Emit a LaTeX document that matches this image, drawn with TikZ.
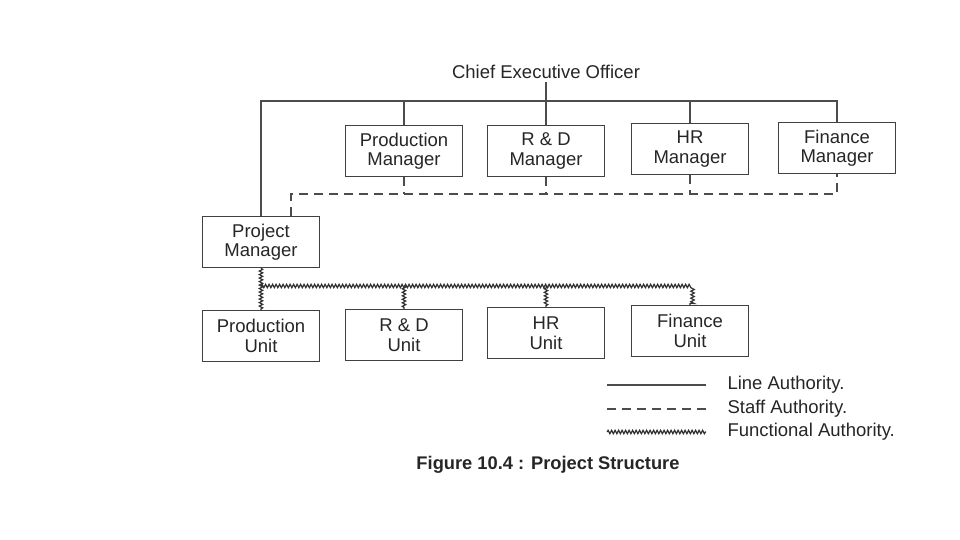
\documentclass[tikz,border=0pt]{standalone}
\usepackage{fontspec}
\setmainfont{Liberation Sans}
\usetikzlibrary{decorations.pathmorphing}
\begin{document}
\begin{tikzpicture}[x=1pt,y=-1pt,
  txt/.style={font=\fontsize{18.5}{19.5}\selectfont, text=black!85},
  box/.style={txt, draw=black!75, line width=1.5pt, minimum width=117pt, minimum height=51pt, align=center, inner sep=0pt},
  line/.style={draw=black!70, line width=1.4pt},
  staff/.style={draw=black!70, line width=1.2pt, dash pattern=on 9pt off 6pt},
  func/.style={draw=black!80, line width=1.2pt, decorate, decoration={snake, amplitude=1.7pt, segment length=3.5pt}}]
\useasboundingbox (0,0) rectangle (960,540);
\fill[white] (0,0) rectangle (960,540);

\node[txt] (ceo) at (546,72) {Chief Executive Officer};
\node[box] (pm) at (404,151) {Production\\Manager};
\node[box] (rdm) at (546,151) {R \& D\\Manager};
\node[box] (hrm) at (690,149) {HR\\Manager};
\node[box] (fm) at (837,148) {Finance\\Manager};
\node[box] (proj) at (261,242) {Project\\Manager};
\node[box] (pu) at (261,336) {Production\\Unit};
\node[box] (rdu) at (404,335) {R \& D\\Unit};
\node[box] (hru) at (546,333) {HR\\Unit};
\node[box] (fnu) at (690,331) {Finance\\Unit};

% line authority
\coordinate (bus) at (261,101);
\draw[line] (ceo.south) -- (rdm.north);
\draw[line] (proj.north) -- (bus) -- (bus -| fm.north) -- (fm.north);
\draw[line] (pm.north) -- (pm.north |- bus);
\draw[line] (hrm.north) -- (hrm.north |- bus);

% staff authority
\coordinate (st) at (291,194);
\draw[staff] (proj.north -| st) -- (st) -- (st -| fm.south) -- (fm.south);
\draw[staff] (pm.south) -- (pm.south |- st);
\draw[staff] (rdm.south) -- (rdm.south |- st);
\draw[staff] (hrm.south) -- (hrm.south |- st);

% functional authority
\coordinate (fu) at (261,286);
\draw[func] (proj.south) -- (pu.north);
\draw[func] (fu) -- (fu -| fnu.north) -- (fnu.north);
\draw[func] (rdu.north |- fu) -- (rdu.north);
\draw[func] (hru.north |- fu) -- (hru.north);

% legend
\node[txt, anchor=west] (l1) at (724,385) {Line Authority.};
\node[txt, anchor=west] (l2) at (724,409) {Staff Authority.};
\node[txt, anchor=west] (l3) at (724,432) {Functional Authority.};
\coordinate (a1) at (607,385); \coordinate (b1) at (706,385);
\coordinate (a2) at (607,409); \coordinate (b2) at (706,409);
\coordinate (a3) at (607,432); \coordinate (b3) at (706,432);
\draw[line] (a1) -- (b1);
\draw[staff] (a2) -- (b2);
\draw[func] (a3) -- (b3);

\node[font=\fontsize{18.3}{20}\selectfont\bfseries, text=black!85] (cap) at (548,465) {Figure 10.4 : Project Structure};
\end{tikzpicture}
\end{document}
